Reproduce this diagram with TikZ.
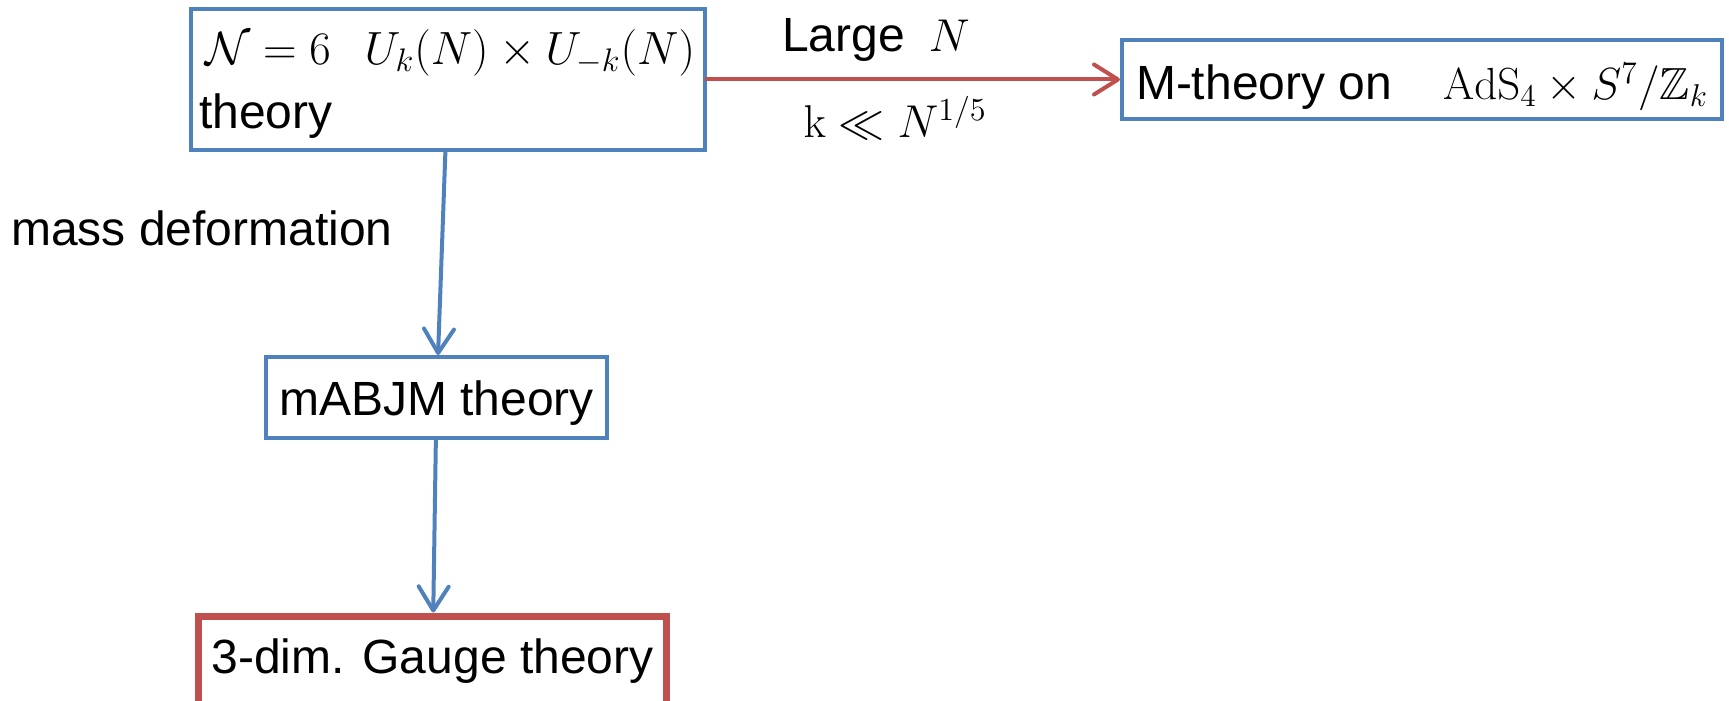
\RequirePackage{fix-cm}
\documentclass[tikz,border=0pt]{standalone}
\usepackage{amsmath,amssymb}
\usepackage[no-math]{fontspec}
\setmainfont{Liberation Sans}
\usetikzlibrary{positioning,arrows.meta}
\definecolor{blue}{HTML}{4F81BD}
\definecolor{red}{HTML}{C0504D}
\newcommand{\eqfont}{\fontsize{23}{32}\selectfont}

\begin{document}
\begin{tikzpicture}[font=\fontsize{24}{32}\selectfont,
  every node/.style={inner sep=0pt,outer sep=0pt},
  box/.style={draw=blue, line width=2pt, inner sep=4pt},
  link/.style={-{Straight Barb[length=12pt,width=15pt,round]}, line width=2pt, shorten >=1pt}]
\useasboundingbox (0,0) rectangle (864.5pt,-350.5pt);
% TOP ROW: the ABJM theory and its M-theory dual
\node[box, minimum width=257pt, minimum height=70.5pt, text width=249pt, align=left, text depth=32pt] (abjm) at (224pt,-39.75pt) {\hspace*{3pt}\mbox{\fontsize{23.3}{32}\selectfont$\mathcal{N}=6\;\;\,U_k(N)\times U_{-k}(N)$}\\theory};
\node[box, right=208.5pt of abjm, minimum width=300pt, minimum height=39.5pt, text height=23pt, text depth=2.5pt] (mtheory) {M-theory on\hspace{25.5pt}{\fontsize{22.5}{32}\selectfont$\mathrm{AdS}_4\times S^7/\mathbb{Z}_k$}};
% COLUMN: mass deformation down to the 3d gauge theory
\node[box, below=103.5pt of abjm, xshift=-5.75pt, minimum width=170.5pt, minimum height=40.5pt, text height=20pt, text depth=2.5pt] (mabjm) {mABJM theory};
\node[box, draw=red, line width=3.5pt, below=89.25pt of mabjm, xshift=-2pt, minimum width=234pt, minimum height=45.75pt, text height=17pt, text depth=6.2pt] (gauge) {3-dim. Gauge theory};
% ARROWS
\draw[link, draw=red] (abjm) -- node[above=9pt, pos=0.41] (largeN) {Large\hspace{12pt}{\eqfont$N$}} node[below=8.5pt, pos=0.456] (kbound) {\eqfont$\mathrm{k}\ll N^{1/5}$} (mtheory);
\draw[link, draw=blue] (abjm) -- node[left=25pt, pos=0.38] (massdef) {mass deformation} (mabjm);
\draw[link, draw=blue, shorten >=2pt] (mabjm) -- (gauge);
\end{tikzpicture}
\end{document}
